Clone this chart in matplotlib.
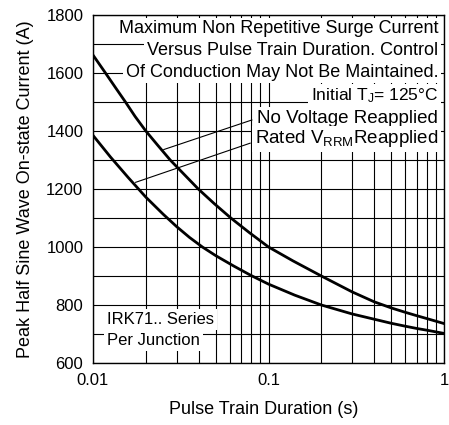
import numpy as np
import matplotlib
matplotlib.use("Agg")
import matplotlib.pyplot as plt

plt.rcParams['font.family'] = ['Liberation Sans', 'DejaVu Sans']
plt.rcParams['mathtext.fontset'] = 'custom'
plt.rcParams['mathtext.rm'] = 'Liberation Sans'
plt.rcParams['mathtext.it'] = 'Liberation Sans'

# Curve readings (pulse train duration in s, peak current in A)
no_volt_t = [0.01, 0.01178, 0.01349, 0.01531, 0.01738, 0.02, 0.02344, 0.02754,
             0.03311, 0.03981, 0.04898, 0.061, 0.07762, 0.1, 0.138, 0.2,
             0.3, 0.4, 0.5, 0.6, 0.7, 0.8, 1.0]
no_volt_i = [1662, 1600, 1548, 1500, 1450, 1400, 1350, 1300,
             1250, 1200, 1150, 1100, 1050, 1000, 952, 900,
             845, 811, 790, 775, 763, 753, 736]

rated_t = [0.01, 0.01259, 0.01585, 0.02, 0.02512, 0.03, 0.03548, 0.042,
           0.0501, 0.0631, 0.0794, 0.1, 0.141, 0.2,
           0.3, 0.4, 0.5, 0.6, 0.7, 0.8, 1.0]
rated_i = [1385, 1310, 1240, 1172, 1113, 1070, 1033, 1000,
           970, 935, 902, 872, 834, 800,
           769, 751, 737, 727, 719, 713, 702]

# leader lines for the curve labels
no_volt_leader_t = [0.0804, 0.0253]
no_volt_leader_i = [1438, 1336]
rated_leader_t = [0.0786, 0.0175]
rated_leader_i = [1358, 1223]

x_ticks = [0.01, 0.1, 1]
x_ticklabels = ['0.01', '0.1', '1']
y_ticks = [600, 800, 1000, 1200, 1400, 1600, 1800]

header_lines = [
    "Maximum Non Repetitive Surge Current",
    "Versus Pulse Train Duration. Control",
    "Of Conduction May Not Be Maintained.",
    r"Initial T$_\mathrm{J}$= 125°C",
    "No Voltage Reapplied",
    r"Rated V$_\mathrm{RRM}$Reapplied",
]
header_y = [0.960, 0.897, 0.836, 0.767, 0.704, 0.644]
header_size = [13, 13, 13, 12.5, 13.5, 13.5]

fig = plt.figure(figsize=(4.49, 4.25), dpi=100)
ax = fig.add_axes([0.2071, 0.1459, 0.7818, 0.8188])

ax.set_xscale('log')
ax.set_xlim(0.01, 1)
ax.set_ylim(600, 1800)

ax.set_xticks(x_ticks)
ax.set_xticklabels(x_ticklabels)
ax.set_yticks(y_ticks)
ax.set_yticks(np.arange(600, 1801, 100), minor=True)
ax.tick_params(which='both', length=0, labelsize=12, pad=7)
ax.xaxis.set_minor_formatter(plt.NullFormatter())

ax.grid(True, which='both', color='black', linewidth=0.8)
for s in ax.spines.values():
    s.set_linewidth(1.0)

ax.plot(no_volt_t, no_volt_i, color='black', lw=2.0, zorder=3)
ax.plot(rated_t, rated_i, color='black', lw=2.0, zorder=3)
ax.plot(no_volt_leader_t, no_volt_leader_i, color='black', lw=0.8, zorder=3)
ax.plot(rated_leader_t, rated_leader_i, color='black', lw=0.8, zorder=3)

box = dict(facecolor='white', edgecolor='none', pad=2.0)
for txt, yy, fs in zip(header_lines, header_y, header_size):
    ax.text(0.983, yy, txt, transform=ax.transAxes, ha='right', va='center',
            fontsize=fs, bbox=box, zorder=4)

ax.text(0.04, 0.125, "IRK71.. Series", transform=ax.transAxes, ha='left',
        va='center', fontsize=12, bbox=box, zorder=4)
ax.text(0.04, 0.065, "Per Junction", transform=ax.transAxes, ha='left',
        va='center', fontsize=12, bbox=box, zorder=4)

ax.set_xlabel("Pulse Train Duration (s)", fontsize=13)
ax.xaxis.set_label_coords(0.485, -0.108)
ax.set_ylabel("Peak Half Sine Wave On-state Current (A)", fontsize=13, labelpad=9)

fig.savefig("out.png", dpi=100)
